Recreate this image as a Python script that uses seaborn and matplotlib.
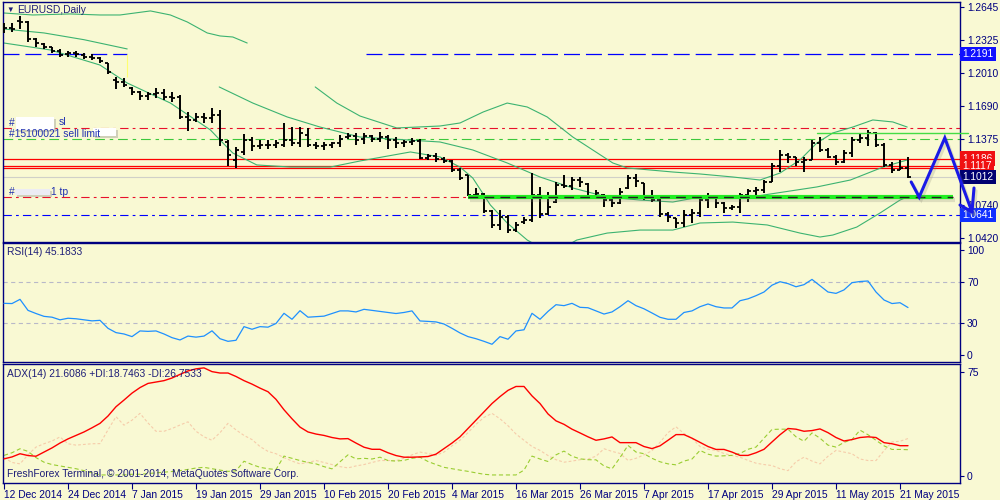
import matplotlib
matplotlib.use("Agg")
import matplotlib.pyplot as plt
import matplotlib.patheffects as pe
import matplotlib.transforms as mtransforms
from matplotlib.patches import Rectangle
import seaborn as sns

# bar 0 = 12 Dec 2014, one bar per trading day
opens = [1.2424, 1.2443, 1.2510, 1.2501, 1.2337, 1.2289, 1.2260, 1.2221, 1.2192, 1.2202,
         1.2183, 1.2164, 1.2154, 1.2106, 1.1942, 1.1923, 1.1865, 1.1826, 1.1788, 1.1807,
         1.1817, 1.1778, 1.1778, 1.1586, 1.1557, 1.1586, 1.1576, 1.1605, 1.1345, 1.1172,
         1.1249, 1.1364, 1.1307, 1.1316, 1.1316, 1.1316, 1.1364, 1.1335, 1.1412, 1.1316,
         1.1307, 1.1316, 1.1335, 1.1393, 1.1403, 1.1374, 1.1403, 1.1374, 1.1393, 1.1364,
         1.1335, 1.1345, 1.1355, 1.1191, 1.1210, 1.1181, 1.1162, 1.1075, 1.1027, 1.0835,
         1.0844, 1.0680, 1.0545, 1.0623, 1.0497, 1.0574, 1.0594, 1.0835, 1.0652, 1.0767,
         1.0931, 1.0921, 1.0979, 1.0941, 1.0825, 1.0835, 1.0786, 1.0757, 1.0902, 1.0998,
         1.0950, 1.0815, 1.0786, 1.0652, 1.0613, 1.0565, 1.0642, 1.0661, 1.0786, 1.0806,
         1.0757, 1.0709, 1.0719, 1.0835, 1.0873, 1.0883, 1.0960, 1.1114, 1.1220, 1.1200,
         1.1152, 1.1172, 1.1335, 1.1268, 1.1200, 1.1152, 1.1239, 1.1364, 1.1384, 1.1432,
         1.1316, 1.1124, 1.1075, 1.1095]
highs = [1.2491, 1.2491, 1.2558, 1.2510, 1.2346, 1.2298, 1.2260, 1.2241, 1.2221, 1.2221,
         1.2202, 1.2192, 1.2164, 1.2106, 1.1971, 1.1961, 1.1875, 1.1836, 1.1826, 1.1865,
         1.1855, 1.1826, 1.1798, 1.1634, 1.1624, 1.1624, 1.1672, 1.1653, 1.1364, 1.1297,
         1.1422, 1.1393, 1.1364, 1.1364, 1.1364, 1.1528, 1.1489, 1.1489, 1.1480, 1.1345,
         1.1345, 1.1345, 1.1412, 1.1432, 1.1432, 1.1432, 1.1412, 1.1441, 1.1412, 1.1393,
         1.1364, 1.1384, 1.1374, 1.1229, 1.1239, 1.1200, 1.1172, 1.1095, 1.1027, 1.0902,
         1.0854, 1.0690, 1.0690, 1.0642, 1.0574, 1.0623, 1.1046, 1.0911, 1.0864, 1.0960,
         1.1027, 1.1008, 1.1008, 1.0950, 1.0883, 1.0844, 1.0806, 1.0902, 1.1027, 1.1037,
         1.0950, 1.0883, 1.0815, 1.0671, 1.0613, 1.0690, 1.0700, 1.0806, 1.0854, 1.0806,
         1.0767, 1.0738, 1.0854, 1.0892, 1.0911, 1.0979, 1.1143, 1.1268, 1.1239, 1.1200,
         1.1200, 1.1364, 1.1393, 1.1287, 1.1220, 1.1268, 1.1393, 1.1432, 1.1461, 1.1441,
         1.1335, 1.1152, 1.1172, 1.1200]
lows = [1.2395, 1.2404, 1.2433, 1.2308, 1.2260, 1.2241, 1.2202, 1.2164, 1.2164, 1.2164,
        1.2144, 1.2135, 1.2106, 1.2000, 1.1855, 1.1875, 1.1798, 1.1749, 1.1749, 1.1769,
        1.1749, 1.1730, 1.1567, 1.1451, 1.1538, 1.1528, 1.1528, 1.1307, 1.1114, 1.1095,
        1.1220, 1.1258, 1.1278, 1.1278, 1.1287, 1.1297, 1.1307, 1.1297, 1.1297, 1.1278,
        1.1268, 1.1287, 1.1297, 1.1374, 1.1316, 1.1326, 1.1345, 1.1345, 1.1278, 1.1287,
        1.1297, 1.1316, 1.1181, 1.1172, 1.1152, 1.1143, 1.1056, 1.0979, 1.0825, 1.0815,
        1.0661, 1.0517, 1.0497, 1.0468, 1.0478, 1.0555, 1.0574, 1.0613, 1.0642, 1.0757,
        1.0902, 1.0883, 1.0911, 1.0806, 1.0806, 1.0719, 1.0719, 1.0748, 1.0892, 1.0911,
        1.0786, 1.0767, 1.0623, 1.0574, 1.0517, 1.0526, 1.0565, 1.0623, 1.0709, 1.0709,
        1.0661, 1.0690, 1.0661, 1.0767, 1.0835, 1.0854, 1.0960, 1.1056, 1.1143, 1.1114,
        1.1056, 1.1172, 1.1249, 1.1191, 1.1124, 1.1143, 1.1200, 1.1335, 1.1307, 1.1297,
        1.1104, 1.1046, 1.1075, 1.0998]
closes = [1.2443, 1.2433, 1.2501, 1.2337, 1.2298, 1.2260, 1.2221, 1.2183, 1.2202, 1.2192,
          1.2164, 1.2154, 1.2125, 1.2019, 1.1923, 1.1894, 1.1826, 1.1788, 1.1807, 1.1817,
          1.1778, 1.1769, 1.1586, 1.1557, 1.1586, 1.1576, 1.1605, 1.1364, 1.1220, 1.1268,
          1.1364, 1.1307, 1.1316, 1.1316, 1.1335, 1.1364, 1.1335, 1.1432, 1.1316, 1.1307,
          1.1316, 1.1335, 1.1374, 1.1403, 1.1364, 1.1403, 1.1374, 1.1393, 1.1364, 1.1335,
          1.1345, 1.1355, 1.1191, 1.1210, 1.1181, 1.1162, 1.1075, 1.0998, 1.0835, 1.0844,
          1.0680, 1.0545, 1.0623, 1.0497, 1.0545, 1.0594, 1.0835, 1.0652, 1.0719, 1.0931,
          1.0921, 1.0979, 1.0960, 1.0825, 1.0854, 1.0786, 1.0757, 1.0864, 1.0998, 1.0969,
          1.0815, 1.0786, 1.0652, 1.0623, 1.0565, 1.0642, 1.0661, 1.0786, 1.0815, 1.0757,
          1.0709, 1.0719, 1.0835, 1.0873, 1.0883, 1.0960, 1.1114, 1.1220, 1.1200, 1.1152,
          1.1172, 1.1335, 1.1268, 1.1200, 1.1152, 1.1239, 1.1364, 1.1384, 1.1432, 1.1316,
          1.1124, 1.1075, 1.1095, 1.1012]

# bollinger band pieces as they show on the chart (bar position, price)
bb_up1_x = [0, 3.6, 8.3, 12, 14.5, 18.3, 20.8, 22.9, 25.4, 27, 28.6, 30.4]
bb_up1 = [1.2587, 1.2568, 1.2578, 1.2568, 1.2568, 1.2607, 1.2568, 1.2501, 1.2395, 1.2366, 1.2356, 1.2298]
bb_mid1_x = [0, 5, 10, 15.4]
bb_mid1 = [1.2433, 1.2395, 1.2330, 1.2241]
bb_low_x = [0, 5.8, 12, 15.4, 20.8, 25.8, 27, 28.6, 31.6, 35.8, 40.8, 44.5, 50.8, 54.5, 57,
            58.6, 60.8, 62.9, 65.4, 68.5, 71.6, 75.4, 79.5, 83.6, 87, 91.1, 95.4, 99.5, 102,
            103.6, 106.6, 109.5, 112, 112.9]
bb_low = [1.2298, 1.2231, 1.2086, 1.1913, 1.1720, 1.1461, 1.1364, 1.1239, 1.1124, 1.1104,
          1.1104, 1.1162, 1.1249, 1.1201, 1.1104, 1.0998, 1.0738, 1.0565, 1.0401, 1.0267,
          1.0401, 1.0468, 1.0497, 1.0497, 1.0565, 1.0574, 1.0546, 1.0468, 1.0430, 1.0449,
          1.0526, 1.0661, 1.0786, 1.0815]
bb_mid2_x = [26.9, 31.1, 35.4, 39.5, 44.5, 54.5, 58.6, 62.9, 67, 71.1, 75.4, 79.5, 83.6, 87,
             93.3, 97.4, 101.6, 105.8, 109.9, 112.9]
bb_mid2 = [1.1875, 1.1720, 1.1586, 1.1489, 1.1393, 1.1345, 1.1268, 1.1143, 1.1008, 1.0902,
           1.0815, 1.0786, 1.0767, 1.0815, 1.0815, 1.0863, 1.0912, 1.0979, 1.1104, 1.1172]
bb_up2_x = [38.9, 41.6, 44.5, 49.1, 54.5, 57, 59.9, 62.9, 65.4, 67.9, 71.1, 73.6, 76.1, 77.9,
            83.6, 87, 91.1, 94.5, 97, 99.5, 101.6, 103.6, 106.1, 108.6, 111.1, 112.9]
bb_up2 = [1.1875, 1.1720, 1.1595, 1.1480, 1.1499, 1.1528, 1.1634, 1.1720, 1.1682, 1.1586,
          1.1393, 1.1268, 1.1143, 1.1095, 1.1056, 1.1037, 1.1008, 1.0979, 1.1046, 1.1172,
          1.1335, 1.1432, 1.1489, 1.1557, 1.1538, 1.1489]

rsi = [49.2, 49.0, 53.0, 42.5, 39.5, 36.8, 36.0, 33.5, 35.0, 34.5, 33.5, 32.5, 33.0, 25.4,
       21.3, 20.0, 17.5, 22.9, 22.5, 22.9, 20.0, 16.5, 14.3, 18.0, 17.0, 18.0, 23.0, 15.5,
       13.0, 14.0, 27.0, 24.5, 27.0, 26.5, 30.0, 39.7, 34.0, 42.2, 36.0, 36.5, 37.0, 39.5,
       42.0, 42.0, 41.0, 43.5, 42.5, 41.5, 40.5, 39.5, 40.5, 42.0, 32.4, 32.0, 31.5, 29.5,
       25.4, 21.0, 17.5, 15.5, 13.0, 10.2, 17.5, 15.0, 22.9, 24.0, 39.7, 34.0, 41.5, 47.9,
       47.0, 49.2, 45.4, 45.0, 42.0, 39.0, 41.0, 46.0, 51.7, 47.0, 44.0, 40.0, 35.9, 34.0,
       34.0, 40.5, 42.0, 46.0, 48.6, 46.0, 44.8, 44.8, 51.7, 53.5, 56.5, 60.0, 66.5, 69.8,
       68.0, 65.0, 67.0, 72.0, 66.0, 60.0, 58.7, 62.0, 68.9, 70.0, 70.5, 60.0, 52.4, 49.0,
       49.8, 45.2]
adx = [12.1, 13.5, 15.8, 14.5, 14.0, 17.0, 20.0, 23.5, 26.5, 29.0, 31.5, 34.5, 37.7, 43.0,
       49.7, 54.5, 59.5, 63.5, 66.5, 67.5, 68.5, 70.4, 73.0, 75.5, 77.0, 77.7, 75.0, 74.0,
       74.0, 71.5, 68.5, 66.0, 63.1, 60.5, 55.0, 47.5, 41.0, 35.0, 31.5, 30.0, 29.0, 27.5,
       26.5, 26.7, 23.5, 20.5, 19.0, 19.0, 16.5, 14.5, 13.3, 13.3, 13.5, 13.8, 15.5, 19.5,
       23.5, 28.0, 34.0, 40.0, 46.0, 52.0, 57.0, 61.5, 64.3, 64.3, 57.5, 52.0, 44.5, 39.5,
       37.0, 33.5, 30.8, 28.0, 25.5, 26.5, 27.9, 23.8, 23.8, 23.8, 21.0, 19.5, 21.5, 25.5,
       29.6, 29.6, 27.0, 24.0, 21.0, 18.9, 18.9, 17.0, 14.6, 14.6, 16.5, 19.0, 24.3, 29.5,
       34.0, 33.5, 32.0, 32.5, 33.7, 31.0, 27.5, 25.0, 26.0, 27.5, 28.0, 27.5, 23.8, 23.0,
       21.6, 21.6]
plus_di = [14.6, 16.5, 19.4, 17.5, 13.0, 9.7, 8.0, 7.0, 6.0, 5.0, 3.6, 2.0, 0.5, 0.5, 0.5,
           0.5, 1.0, 1.0, 1.5, 2.0, 2.5, 3.0, 3.6, 4.5, 5.5, 6.0, 5.0, 4.0, 3.1, 3.5, 10.4,
           8.0, 6.0, 5.0, 4.4, 14.1, 12.5, 10.9, 9.5, 8.5, 6.5, 4.9, 10.0, 15.0, 12.1, 12.5,
           12.0, 13.3, 10.9, 10.5, 11.0, 12.5, 13.3, 10.2, 8.0, 6.0, 5.0, 4.0, 3.1, 2.0, 1.0,
           0.5, 0.5, 0.5, 0.5, 4.0, 14.1, 12.0, 10.2, 15.0, 17.7, 14.0, 12.1, 11.5, 11.4, 7.0,
           4.9, 13.0, 21.8, 17.0, 15.8, 12.5, 10.0, 8.5, 7.8, 10.5, 12.0, 18.2, 15.5, 14.1,
           14.3, 14.6, 16.0, 19.0, 20.6, 27.0, 33.3, 33.5, 33.5, 28.0, 24.8, 30.8, 27.0, 22.0,
           20.6, 24.0, 26.0, 32.8, 29.5, 25.5, 21.5, 18.9, 18.9, 18.7]
minus_di = [13.0, 9.5, 8.5, 15.0, 20.6, 23.0, 25.0, 27.9, 23.0, 22.0, 22.5, 23.0, 23.1, 33.0,
            42.5, 36.4, 40.0, 44.9, 38.0, 32.0, 32.0, 34.0, 36.5, 38.8, 32.0, 28.0, 25.5, 31.0,
            37.7, 33.0, 29.0, 26.0, 21.0, 17.5, 15.8, 13.0, 10.5, 8.5, 9.5, 10.9, 9.5, 8.0,
            6.5, 5.6, 7.0, 8.0, 9.5, 10.9, 10.9, 10.9, 12.5, 15.0, 17.0, 16.0, 14.6, 17.0,
            21.5, 25.5, 31.0, 37.0, 42.0, 44.9, 41.0, 36.0, 30.0, 25.5, 21.0, 18.2, 14.5, 11.5,
            9.7, 10.5, 11.5, 12.0, 14.0, 19.4, 17.5, 16.0, 11.0, 12.5, 15.0, 18.0, 24.0, 31.0,
            35.2, 30.4, 27.0, 21.0, 19.0, 18.2, 16.0, 14.5, 13.3, 11.0, 9.0, 8.0, 7.3, 5.0, 3.6,
            10.0, 13.3, 10.5, 8.5, 14.0, 18.2, 17.0, 15.8, 12.0, 10.9, 10.9, 18.0, 24.3, 24.8,
            26.75]

date_labels = ["12 Dec 2014", "24 Dec 2014", "7 Jan 2015", "19 Jan 2015", "29 Jan 2015",
               "10 Feb 2015", "20 Feb 2015", "4 Mar 2015", "16 Mar 2015", "26 Mar 2015",
               "7 Apr 2015", "17 Apr 2015", "29 Apr 2015", "11 May 2015", "21 May 2015"]
price_ticks = [1.2645, 1.2325, 1.2010, 1.1690, 1.1375, 1.0740, 1.0420]

# order lines / objects
target_line = 1.2191
sl_line = 1.1479
limit_line = 1.1375
red_lines = [1.1186, 1.1117, 1.1098]
bid_line = 1.1012
tp_line = 1.0812
low_line = 1.0641
top_line = 1.1429
arrow_x = [113.4, 114.4, 117.6, 121.0]
arrow_y = [1.0960, 1.0815, 1.1384, 1.0671]
head_x = [119.5, 121.0, 121.25]
head_y = [1.0738, 1.0671, 1.0902]

BG = "#F9F9D3"
NAVY = "#000080"
TXT = "#1E1E78"
BAND = "#3CB371"
FS = 7.4

sns.set_theme(style="white")
plt.rcParams["font.family"] = ["Liberation Sans", "DejaVu Sans"]
plt.rcParams["lines.scale_dashes"] = False

fig = plt.figure(figsize=(10, 5), dpi=100, facecolor=BG)
ax_p = fig.add_axes([0.003, 0.516, 0.957, 0.480])
ax_r = fig.add_axes([0.003, 0.276, 0.957, 0.238])
ax_a = fig.add_axes([0.003, 0.034, 0.957, 0.238])

XMIN, XMAX = -0.125, 119.5
for ax in (ax_p, ax_r, ax_a):
    ax.set_facecolor(BG)
    ax.set_xlim(XMIN, XMAX)
    for s in ax.spines.values():
        s.set_visible(True)
        s.set_color(NAVY)
        s.set_linewidth(1.0)
    ax.yaxis.tick_right()
    ax.tick_params(axis="y", direction="out", length=3, width=0.8, color=NAVY,
                   labelcolor=NAVY, labelsize=FS, pad=2, left=False, right=True)
    ax.tick_params(axis="x", bottom=False, labelbottom=False)
    ax.grid(False)

# ---- price panel ----
ax_p.set_ylim(1.0382, 1.2693)
ax_p.set_yticks(price_ticks)
ax_p.set_yticklabels([f"{v:.4f}" for v in price_ticks])

ax_p.hlines(target_line, XMIN, 15.4, color="#0000FF", lw=0.9, ls=(0, (11.5, 4.3)), zorder=1)
ax_p.hlines(target_line, 45.25, XMAX, color="#0000FF", lw=0.9, ls=(0, (11.5, 4.3)), zorder=1)
ax_p.vlines(15.4, 1.1971, target_line, color="#FFFF70", lw=0.8, zorder=1)
ax_p.hlines(sl_line, XMIN, XMAX, color="#E8102C", lw=0.8, ls=(0, (6, 3, 2, 3)), zorder=1)
ax_p.hlines(limit_line, XMIN, XMAX, color="#3CC83C", lw=0.8, ls=(0, (7, 3.5, 2.5, 3.5)), zorder=1)
for v in red_lines:
    ax_p.hlines(v, XMIN, XMAX, color="#FF0000", lw=0.9, zorder=1)
ax_p.hlines(bid_line, XMIN, XMAX, color="#D0D0C8", lw=0.8, zorder=1)
ax_p.hlines(tp_line, XMIN, 58, color="#E8102C", lw=0.8, ls=(0, (6, 3, 2, 3)), zorder=1)
ax_p.hlines(low_line, XMIN, XMAX, color="#0000FF", lw=0.8, ls=(0, (6, 3, 2, 3)), zorder=1)

for bx, by in [(bb_up1_x, bb_up1), (bb_mid1_x, bb_mid1), (bb_low_x, bb_low),
               (bb_mid2_x, bb_mid2), (bb_up2_x, bb_up2)]:
    sns.lineplot(x=bx, y=by, ax=ax_p, color=BAND, lw=0.8, sort=False, estimator=None, zorder=2)

n = len(closes)
idx = list(range(n))
ax_p.vlines(idx, lows, highs, color="black", lw=1.4, zorder=3)
ax_p.hlines(opens, [i - 0.42 for i in idx], idx, color="black", lw=1.3, zorder=3)
ax_p.hlines(closes, idx, [i + 0.42 for i in idx], color="black", lw=1.3, zorder=3)

shadow = [pe.SimpleLineShadow(offset=(1.5, -2), shadow_color="#808070", alpha=0.22), pe.Normal()]
ax_p.plot([58, 118.6], [tp_line, tp_line], color="#22EE22", lw=3.0, zorder=4,
          solid_capstyle="butt", path_effects=shadow)
ax_p.plot([58, 118.6], [tp_line, tp_line], color="#202020", lw=1.0, zorder=4,
          ls=(0, (7, 4.5)))
ax_p.plot([101.6, 120.5], [top_line, top_line], color="#44DD44", lw=1.0, zorder=4,
          clip_on=False)

ax_p.plot(arrow_x, arrow_y, color="#1A1AE6", lw=2.2, zorder=8, clip_on=False,
          solid_joinstyle="miter", path_effects=shadow)
ax_p.plot(head_x, head_y, color="#1A1AE6", lw=2.2, zorder=8, clip_on=False,
          path_effects=shadow)

trans = mtransforms.blended_transform_factory(ax_p.transAxes, ax_p.transData)
for val, fc in [(target_line, "#1010FF"), (1.1186, "#F01010"), (1.1117, "#F01010"),
                (bid_line, "#000070"), (low_line, "#1030FF")]:
    ax_p.text(1.0025, val, f"{val:.4f}", transform=trans, ha="left", va="center",
              color="white", fontsize=FS, zorder=6, clip_on=False,
              bbox=dict(boxstyle="square,pad=0.2", fc=fc, ec="none"))


def fpos(x, y):
    return x / 1000, 1 - y / 500


def box(x0, y0, x1, y1, fc):
    fig.add_artist(Rectangle(fpos(x0 + 2, y1 + 2), (x1 - x0) / 1000, (y1 - y0) / 500,
                             transform=fig.transFigure, fc="#A8A8A0", ec="none", alpha=0.5))
    fig.add_artist(Rectangle(fpos(x0, y1), (x1 - x0) / 1000, (y1 - y0) / 500,
                             transform=fig.transFigure, fc=fc, ec="none"))


fig.text(*fpos(6, 10), "\u25BC", fontsize=5.5, color=TXT, va="center", ha="left")
fig.text(*fpos(17, 10), "EURUSD,Daily", fontsize=FS, color=TXT, va="center", ha="left")

fig.text(*fpos(9, 123), "#", fontsize=FS, color="#2030B0", va="center", ha="left")
box(16, 117, 54, 130, "white")
fig.text(*fpos(59, 122), "sl", fontsize=FS, color="#2030B0", va="center", ha="left")
fig.text(*fpos(9, 134), "#15100021 sell limit", fontsize=FS, color="#2030B0",
         va="center", ha="left")
box(93, 128, 116, 136, "white")
fig.text(*fpos(9, 192), "#", fontsize=FS, color="#2030B0", va="center", ha="left")
box(15, 189, 50, 195, "#ECECF4")
fig.text(*fpos(51, 192), "1 tp", fontsize=FS, color="#2030B0", va="center", ha="left")

# ---- RSI panel ----
ax_r.set_ylim(-6.7, 106.7)
ax_r.set_yticks([0, 30, 70, 100])
for lv in (30, 70):
    ax_r.axhline(lv, color="#B8B8C8", lw=0.8, ls=(0, (3, 2.5)), zorder=1)
sns.lineplot(x=idx, y=rsi, ax=ax_r, color="#1E90FF", lw=0.9, zorder=3)
fig.text(*fpos(7, 252), "RSI(14) 45.1833", fontsize=FS, color=TXT, va="center", ha="left")

# ---- ADX panel ----
ax_a.set_ylim(-5.3, 80.5)
ax_a.set_yticks([0, 75])
sns.lineplot(x=idx, y=minus_di, ax=ax_a, color="#F6CCAA", lw=0.8, ls=(0, (2, 1.5)), zorder=2)
sns.lineplot(x=idx, y=plus_di, ax=ax_a, color="#9ACD32", lw=0.8, ls=(0, (3, 2)), zorder=2)
sns.lineplot(x=idx, y=adx, ax=ax_a, color="#FF0000", lw=1.0, zorder=3)
ax_a.set_xticks(list(range(0, 113, 8)))
ax_a.set_xticklabels(date_labels, ha="left")
ax_a.tick_params(axis="x", bottom=True, labelbottom=True, direction="out", length=4,
                 width=0.8, color=NAVY, labelcolor=NAVY, labelsize=FS, pad=1)
fig.text(*fpos(7, 374), "ADX(14) 21.6086 +DI:18.7463 -DI:26.7533", fontsize=FS,
         color=TXT, va="center", ha="left")
fig.text(*fpos(7, 474), "FreshForex Terminal, \u00A9 2001-2014, MetaQuotes Software Corp.",
         fontsize=FS, color=TXT, va="center", ha="left")

for ax in (ax_p, ax_r, ax_a):
    ax.set_xlabel("")
    ax.set_ylabel("")
    if ax.get_legend() is not None:
        ax.get_legend().remove()

fig.savefig("out.png", dpi=100, facecolor=BG)
